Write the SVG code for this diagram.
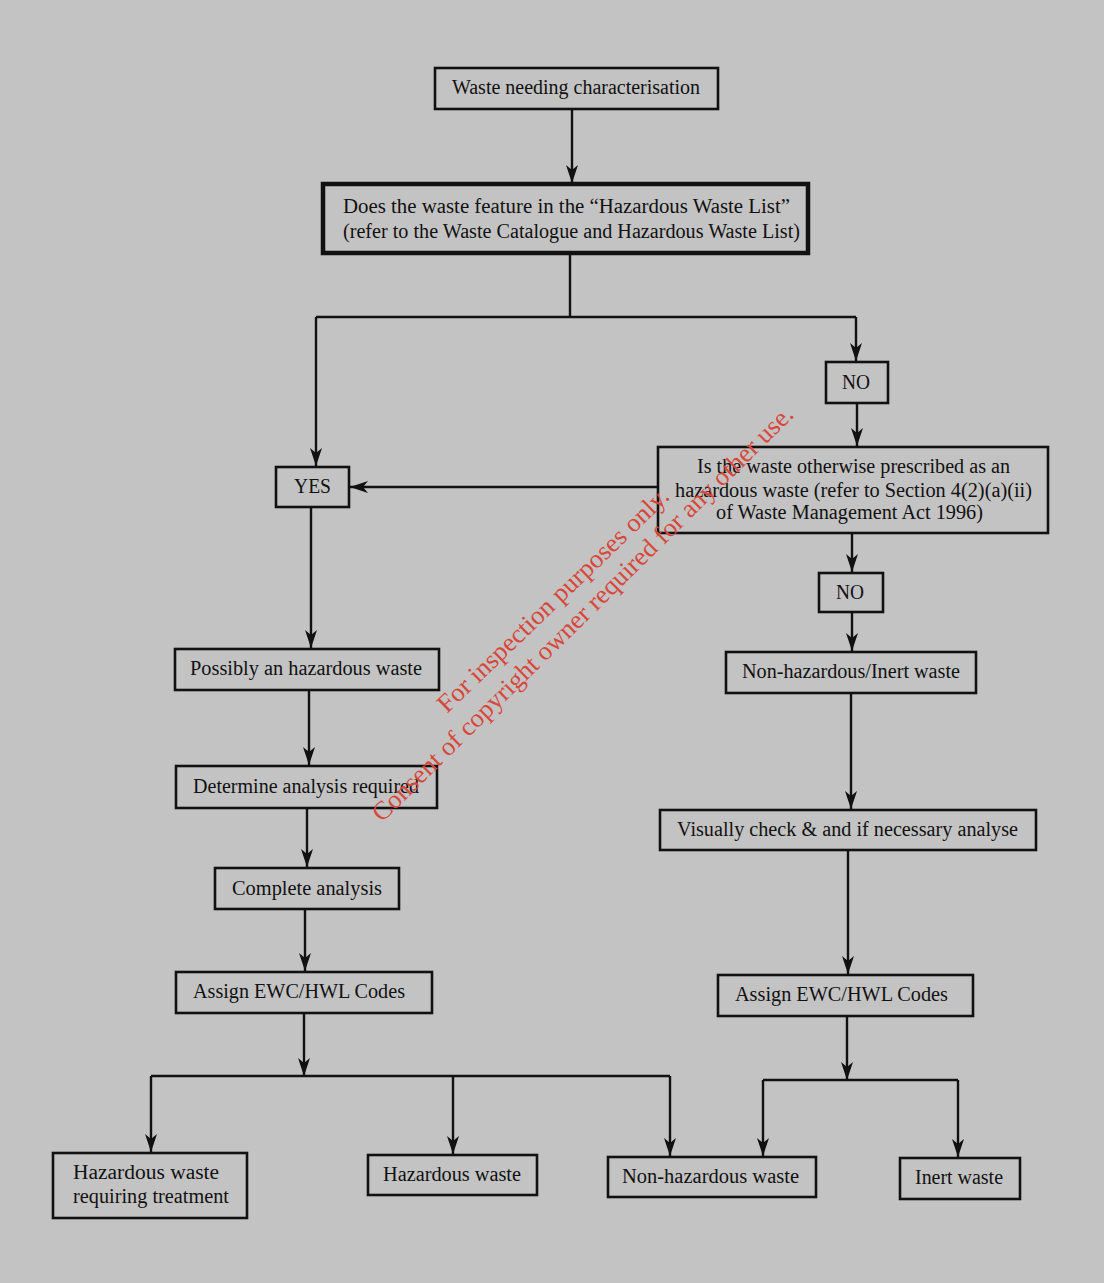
<svg xmlns="http://www.w3.org/2000/svg" width="1104" height="1283" viewBox="0 0 1104 1283">
<style>
.bx{fill:none;stroke:#111;stroke-width:2.6}
.thick{stroke-width:4.5}
.t{font-family:"Liberation Serif","Times New Roman",serif;font-size:20px;fill:#111}
.c{fill:none;stroke:#111;stroke-width:2.4}
.wm{font-family:"Liberation Serif","Times New Roman",serif;font-size:26px;fill:#d8473a}
</style>
<defs>
<marker id="ah" markerUnits="userSpaceOnUse" markerWidth="20" markerHeight="14" refX="18" refY="7" orient="auto">
<path d="M0,1 L18,7 L0,13 L5,7 z" fill="#111"/>
</marker>
</defs>
<rect x="0" y="0" width="1104" height="1283" fill="#c3c3c3"/>
<g id="connectors">
<path class="c" d="M572,109 V183" marker-end="url(#ah)"/>
<path class="c" d="M570,253 V317 M316,317 H856"/>
<path class="c" d="M316,317 V466" marker-end="url(#ah)"/>
<path class="c" d="M856,317 V361" marker-end="url(#ah)"/>
<path class="c" d="M857,403 V446" marker-end="url(#ah)"/>
<path class="c" d="M658,487 H350" marker-end="url(#ah)"/>
<path class="c" d="M852,533 V572" marker-end="url(#ah)"/>
<path class="c" d="M852,612 V651" marker-end="url(#ah)"/>
<path class="c" d="M311,507 V648" marker-end="url(#ah)"/>
<path class="c" d="M309,690 V765" marker-end="url(#ah)"/>
<path class="c" d="M307,808 V867" marker-end="url(#ah)"/>
<path class="c" d="M305,909 V971" marker-end="url(#ah)"/>
<path class="c" d="M304,1013 V1076" marker-end="url(#ah)"/>
<path class="c" d="M151,1076 H670"/>
<path class="c" d="M151,1076 V1152" marker-end="url(#ah)"/>
<path class="c" d="M453,1076 V1154" marker-end="url(#ah)"/>
<path class="c" d="M670,1076 V1156" marker-end="url(#ah)"/>
<path class="c" d="M851,693 V809" marker-end="url(#ah)"/>
<path class="c" d="M848,850 V974" marker-end="url(#ah)"/>
<path class="c" d="M847,1016 V1080" marker-end="url(#ah)"/>
<path class="c" d="M763,1080 H958"/>
<path class="c" d="M763,1080 V1156" marker-end="url(#ah)"/>
<path class="c" d="M958,1080 V1157" marker-end="url(#ah)"/>
</g>
<g id="n-start">
<rect class="bx" x="435" y="68" width="283" height="41"/>
<text class="t" x="452" y="94" textLength="248" lengthAdjust="spacingAndGlyphs">Waste needing characterisation</text>
</g>
<g id="n-hwl">
<rect class="bx thick" x="323" y="184" width="485" height="69"/>
<text class="t" x="343" y="213" textLength="447" lengthAdjust="spacingAndGlyphs">Does the waste feature in the “Hazardous Waste List”</text>
<text class="t" x="343" y="238" textLength="457" lengthAdjust="spacingAndGlyphs">(refer to the Waste Catalogue and Hazardous Waste List)</text>
</g>
<g id="n-no1">
<rect class="bx" x="826" y="362" width="62" height="41"/>
<text class="t" x="842" y="389" textLength="28" lengthAdjust="spacingAndGlyphs">NO</text>
</g>
<g id="n-prescribed">
<rect class="bx" x="658" y="447" width="390" height="86"/>
<text class="t" x="697" y="473" textLength="313" lengthAdjust="spacingAndGlyphs">Is the waste otherwise prescribed as an</text>
<text class="t" x="675" y="497" textLength="357" lengthAdjust="spacingAndGlyphs">hazardous waste (refer to Section 4(2)(a)(ii)</text>
<text class="t" x="716" y="519" textLength="267" lengthAdjust="spacingAndGlyphs">of Waste Management Act 1996)</text>
</g>
<g id="n-yes">
<rect class="bx" x="276" y="467" width="73" height="40"/>
<text class="t" x="294" y="493" textLength="37" lengthAdjust="spacingAndGlyphs">YES</text>
</g>
<g id="n-no2">
<rect class="bx" x="819" y="573" width="64" height="39"/>
<text class="t" x="836" y="599" textLength="28" lengthAdjust="spacingAndGlyphs">NO</text>
</g>
<g id="n-possibly">
<rect class="bx" x="175" y="649" width="264" height="41"/>
<text class="t" x="190" y="675" textLength="232" lengthAdjust="spacingAndGlyphs">Possibly an hazardous waste</text>
</g>
<g id="n-determine">
<rect class="bx" x="176" y="766" width="261" height="42"/>
<text class="t" x="193" y="793" textLength="226" lengthAdjust="spacingAndGlyphs">Determine analysis required</text>
</g>
<g id="n-complete">
<rect class="bx" x="215" y="868" width="184" height="41"/>
<text class="t" x="232" y="895" textLength="150" lengthAdjust="spacingAndGlyphs">Complete analysis</text>
</g>
<g id="n-assign-left">
<rect class="bx" x="176" y="972" width="256" height="41"/>
<text class="t" x="193" y="998" textLength="212" lengthAdjust="spacingAndGlyphs">Assign EWC/HWL Codes</text>
</g>
<g id="n-nonhaz-inert">
<rect class="bx" x="726" y="652" width="250" height="41"/>
<text class="t" x="742" y="678" textLength="218" lengthAdjust="spacingAndGlyphs">Non-hazardous/Inert waste</text>
</g>
<g id="n-visual">
<rect class="bx" x="660" y="810" width="376" height="40"/>
<text class="t" x="677" y="836" textLength="341" lengthAdjust="spacingAndGlyphs">Visually check &amp; and if necessary analyse</text>
</g>
<g id="n-assign-right">
<rect class="bx" x="718" y="975" width="255" height="41"/>
<text class="t" x="735" y="1001" textLength="213" lengthAdjust="spacingAndGlyphs">Assign EWC/HWL Codes</text>
</g>
<g id="n-haz-treat">
<rect class="bx" x="53" y="1153" width="194" height="65"/>
<text class="t" x="73" y="1179" textLength="146" lengthAdjust="spacingAndGlyphs">Hazardous waste</text>
<text class="t" x="73" y="1203" textLength="156" lengthAdjust="spacingAndGlyphs">requiring treatment</text>
</g>
<g id="n-haz">
<rect class="bx" x="368" y="1155" width="169" height="40"/>
<text class="t" x="383" y="1181" textLength="138" lengthAdjust="spacingAndGlyphs">Hazardous waste</text>
</g>
<g id="n-nonhaz">
<rect class="bx" x="608" y="1157" width="208" height="40"/>
<text class="t" x="622" y="1183" textLength="177" lengthAdjust="spacingAndGlyphs">Non-hazardous waste</text>
</g>
<g id="n-inert">
<rect class="bx" x="900" y="1158" width="120" height="41"/>
<text class="t" x="915" y="1184" textLength="88" lengthAdjust="spacingAndGlyphs">Inert waste</text>
</g>
<g id="watermark">
<text class="wm" transform="translate(447,714) rotate(-44)" textLength="311" lengthAdjust="spacingAndGlyphs">For inspection purposes only.</text>
<text class="wm" transform="translate(382,823) rotate(-44.6)" textLength="580" lengthAdjust="spacingAndGlyphs">Consent of copyright owner required for any other use.</text>
</g>
</svg>
